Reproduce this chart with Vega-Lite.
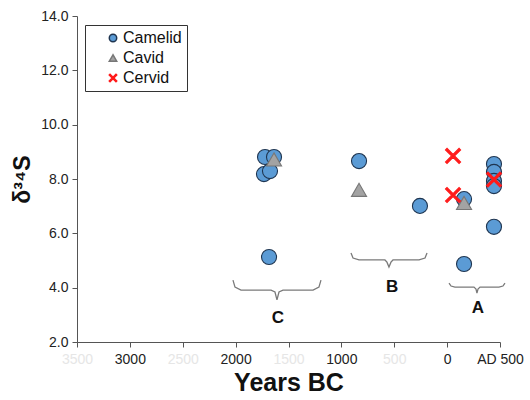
{
  "$schema": "https://vega.github.io/schema/vega-lite/v6.json",
  "autosize": {"type": "none"},
  "padding": {"left": 77, "top": 16, "right": 30, "bottom": 58},
  "width": 423,
  "height": 326,
  "config": {
    "font": "Liberation Sans",
    "view": {"stroke": null},
    "axis": {"grid": false, "domainColor": "#555", "tickColor": "#555", "labelColor": "#222", "labelFontSize": 14, "titleFontWeight": "bold", "titleColor": "#111"},
    "legend": {"title": null, "orient": "none", "legendX": 8, "legendY": 9, "strokeColor": "#333", "padding": 5, "symbolOffset": 15, "labelOffset": 2, "labelFontSize": 16, "labelColor": "#111", "symbolSize": 55, "rowPadding": 4}
  },
  "datasets": {
    "points": [
      {"taxon": "Camelid", "year": 1722, "d34S": 8.81},
      {"taxon": "Camelid", "year": 1637, "d34S": 8.81},
      {"taxon": "Camelid", "year": 1732, "d34S": 8.18},
      {"taxon": "Camelid", "year": 1675, "d34S": 8.29},
      {"taxon": "Camelid", "year": 1684, "d34S": 5.13},
      {"taxon": "Camelid", "year": 833, "d34S": 8.66},
      {"taxon": "Camelid", "year": 257, "d34S": 7.01},
      {"taxon": "Camelid", "year": -160, "d34S": 7.26},
      {"taxon": "Camelid", "year": -160, "d34S": 4.87},
      {"taxon": "Camelid", "year": -443, "d34S": 8.55},
      {"taxon": "Camelid", "year": -443, "d34S": 8.26},
      {"taxon": "Camelid", "year": -443, "d34S": 7.93},
      {"taxon": "Camelid", "year": -443, "d34S": 7.74},
      {"taxon": "Camelid", "year": -443, "d34S": 6.24},
      {"taxon": "Cavid", "year": 1637, "d34S": 8.72},
      {"taxon": "Cavid", "year": 833, "d34S": 7.6},
      {"taxon": "Cavid", "year": -160, "d34S": 7.12},
      {"taxon": "Cervid", "year": -56, "d34S": 8.85},
      {"taxon": "Cervid", "year": -56, "d34S": 7.41},
      {"taxon": "Cervid", "year": -443, "d34S": 7.98}
    ],
    "braces": [
      {"brace": "C", "ord": 1, "year": 2025, "d34S": 4.28},
      {"brace": "C", "ord": 2, "year": 2006, "d34S": 4.02},
      {"brace": "C", "ord": 3, "year": 1949, "d34S": 3.91},
      {"brace": "C", "ord": 4, "year": 1665, "d34S": 3.91},
      {"brace": "C", "ord": 5, "year": 1628, "d34S": 3.84},
      {"brace": "C", "ord": 6, "year": 1609, "d34S": 3.55},
      {"brace": "C", "ord": 7, "year": 1590, "d34S": 3.84},
      {"brace": "C", "ord": 8, "year": 1552, "d34S": 3.91},
      {"brace": "C", "ord": 9, "year": 1268, "d34S": 3.91},
      {"brace": "C", "ord": 10, "year": 1212, "d34S": 4.02},
      {"brace": "C", "ord": 11, "year": 1193, "d34S": 4.28},
      {"brace": "B", "ord": 1, "year": 909, "d34S": 5.28},
      {"brace": "B", "ord": 2, "year": 890, "d34S": 5.09},
      {"brace": "B", "ord": 3, "year": 833, "d34S": 5.02},
      {"brace": "B", "ord": 4, "year": 588, "d34S": 5.02},
      {"brace": "B", "ord": 5, "year": 569, "d34S": 4.94},
      {"brace": "B", "ord": 6, "year": 550, "d34S": 4.76},
      {"brace": "B", "ord": 7, "year": 531, "d34S": 4.94},
      {"brace": "B", "ord": 8, "year": 512, "d34S": 5.02},
      {"brace": "B", "ord": 9, "year": 266, "d34S": 5.02},
      {"brace": "B", "ord": 10, "year": 209, "d34S": 5.09},
      {"brace": "B", "ord": 11, "year": 190, "d34S": 5.28},
      {"brace": "A", "ord": 1, "year": -18, "d34S": 4.17},
      {"brace": "A", "ord": 2, "year": -37, "d34S": 4.06},
      {"brace": "A", "ord": 3, "year": -74, "d34S": 4.02},
      {"brace": "A", "ord": 4, "year": -254, "d34S": 4.02},
      {"brace": "A", "ord": 5, "year": -273, "d34S": 3.95},
      {"brace": "A", "ord": 6, "year": -282, "d34S": 3.8},
      {"brace": "A", "ord": 7, "year": -292, "d34S": 3.95},
      {"brace": "A", "ord": 8, "year": -311, "d34S": 4.02},
      {"brace": "A", "ord": 9, "year": -490, "d34S": 4.02},
      {"brace": "A", "ord": 10, "year": -528, "d34S": 4.06},
      {"brace": "A", "ord": 11, "year": -547, "d34S": 4.17}
    ],
    "labels": [
      {"label": "C", "year": 1600, "d34S": 2.88},
      {"label": "B", "year": 521, "d34S": 4.02},
      {"label": "A", "year": -292, "d34S": 3.25}
    ]
  },
  "layer": [
    {
      "data": {"name": "braces"},
      "mark": {"type": "line", "color": "#7a7a7a", "strokeWidth": 1.3},
      "encoding": {
        "x": {"field": "year", "type": "quantitative", "scale": {"domain": [-500, 3500], "reverse": true, "nice": false, "zero": false},
          "axis": {"title": "Years BC", "titleFontSize": 25, "titlePadding": 4, "values": [-500, 0, 500, 1000, 1500, 2000, 2500, 3000, 3500], "tickSize": 5, "labelPadding": 5, "labelFlush": false,
            "labelExpr": "datum.value == -500 ? 'AD 500' : datum.value",
            "labelColor": {"condition": {"test": "datum.value % 1000 != 0 && datum.value != -500", "value": "#e6e6e6"}, "value": "#222"}}},
        "y": {"field": "d34S", "type": "quantitative", "scale": {"domain": [2, 14], "nice": false, "zero": false},
          "axis": {"title": "δ³⁴S", "titleFontSize": 23, "titlePadding": 6, "values": [2, 4, 6, 8, 10, 12, 14], "format": ".1f", "tickSize": 5, "labelPadding": 4}},
        "detail": {"field": "brace"},
        "order": {"field": "ord"}
      }
    },
    {
      "data": {"name": "labels"},
      "mark": {"type": "text", "fontWeight": "bold", "fontSize": 17, "color": "#111", "baseline": "middle", "align": "center"},
      "encoding": {
        "x": {"field": "year", "type": "quantitative"},
        "y": {"field": "d34S", "type": "quantitative"},
        "text": {"field": "label"}
      }
    },
    {
      "data": {"name": "points"},
      "mark": {"type": "point", "filled": true, "size": 227, "opacity": 1, "strokeWidth": 1.1},
      "encoding": {
        "x": {"field": "year", "type": "quantitative"},
        "y": {"field": "d34S", "type": "quantitative"},
        "color": {"field": "taxon", "type": "nominal", "scale": {"domain": ["Camelid", "Cavid", "Cervid"], "range": ["#5b9bd5", "#a3a3a3", "#ff1a1a"]},
          "legend": {"labelExpr": "datum.label + '\u2003\u2003'"}},
        "stroke": {"field": "taxon", "type": "nominal", "scale": {"domain": ["Camelid", "Cavid", "Cervid"], "range": ["#1f3550", "#777777", "#ff1a1a"]},
          "legend": {"labelExpr": "datum.label + '\u2003\u2003'"}},
        "shape": {"field": "taxon", "type": "nominal", "scale": {"domain": ["Camelid", "Cavid", "Cervid"], "range": ["circle", "triangle-up", "M-1,-0.8L-0.8,-1L0,-0.2L0.8,-1L1,-0.8L0.2,0L1,0.8L0.8,1L0,0.2L-0.8,1L-1,0.8L-0.2,0Z"]},
          "legend": {"labelExpr": "datum.label + '\u2003\u2003'"}}
      }
    }
  ]
}
